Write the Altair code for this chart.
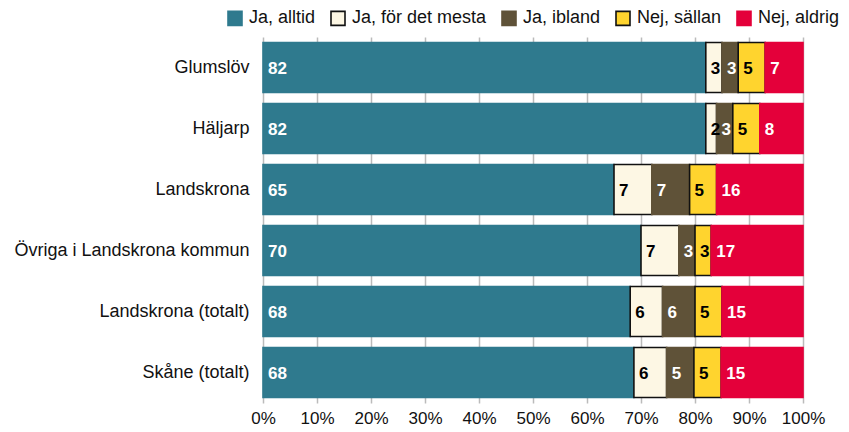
import altair as alt
import pandas as pd

groups = ["Glumslöv", "Häljarp", "Landskrona", "Övriga i Landskrona kommun",
          "Landskrona (totalt)", "Skåne (totalt)"]
answers = ["Ja, alltid", "Ja, för det mesta", "Ja, ibland", "Nej, sällan", "Nej, aldrig"]
ja_alltid = [82, 82, 65, 70, 68, 68]
ja_mesta = [3, 2, 7, 7, 6, 6]
ja_ibland = [3, 3, 7, 3, 6, 5]
nej_sallan = [5, 5, 5, 3, 5, 5]
nej_aldrig = [7, 8, 16, 17, 15, 15]

colors = ["#2F7A8E", "#FDF7E4", "#5F5238", "#FFD42E", "#E4003A"]
strokes = ["#2F7A8E", "#111111", "#5F5238", "#111111", "#E4003A"]
label_colors = ["white", "black", "white", "black", "white"]

series = [ja_alltid, ja_mesta, ja_ibland, nej_sallan, nej_aldrig]
rows = []
for ai, (a, vals) in enumerate(zip(answers, series)):
    for g, v in zip(groups, vals):
        rows.append({"group": g, "answer": a, "order": ai, "value": v,
                     "lblcolor": label_colors[ai]})
df = pd.DataFrame(rows)

base = alt.Chart(df).transform_stack(
    stack="value", groupby=["group"], as_=["x0", "x1"],
    sort=[alt.SortField("order", "ascending")], offset="normalize"
)

yenc = alt.Y("group:N", sort=groups, title=None,
             scale=alt.Scale(paddingInner=0.18, paddingOuter=0.09),
             axis=alt.Axis(ticks=False, domain=False, labelFontSize=18,
                           labelColor="#111", labelFont="Liberation Sans",
                           labelPadding=14, labelLimit=400))

bars = base.mark_bar(strokeWidth=1.6).encode(
    x=alt.X("x0:Q", title=None,
            scale=alt.Scale(domain=[0, 1], nice=False),
            axis=alt.Axis(format=".0%", values=[i / 10 for i in range(11)],
                          domain=False, ticks=False, grid=True,
                          gridColor="#BBBBBB", gridWidth=1.5,
                          labelFontSize=17, labelColor="#111",
                          labelFont="Liberation Sans", labelPadding=7,
                          labelOverlap=False, labelBound=False, labelFlush=False)),
    x2="x1:Q",
    y=yenc,
    fill=alt.Fill("answer:N", sort=answers,
                  scale=alt.Scale(domain=answers, range=colors),
                  legend=alt.Legend(title=None, orient="none", direction="horizontal",
                                    legendX=-37, legendY=-28,
                                    symbolType="square", symbolSize=196,
                                    symbolStrokeWidth=1.6,
                                    labelFontSize=18, labelFont="Liberation Sans",
                                    labelColor="#111", labelOffset=5,
                                    columnPadding=11, labelLimit=300)),
    stroke=alt.Stroke("answer:N", sort=answers,
                      scale=alt.Scale(domain=answers, range=strokes),
                      legend=None),
    order=alt.Order("order:Q"),
)

labels = base.mark_text(align="left", baseline="middle", dx=5, dy=1, fontSize=17,
                        fontWeight="bold", font="Liberation Sans").encode(
    x="x0:Q",
    y=alt.Y("group:N", sort=groups),
    text="value:Q",
    color=alt.Color("lblcolor:N", scale=None),
)

chart = alt.layer(bars, labels).properties(
    width=540, height=366,
    autosize=alt.AutoSizeParams(type="none"),
    padding={"left": 255, "top": 29, "right": 38, "bottom": 26},
).configure_view(stroke=None).configure_axis(gridOpacity=1)

chart.save("out.html", embed_options={"renderer": "svg", "actions": False})
